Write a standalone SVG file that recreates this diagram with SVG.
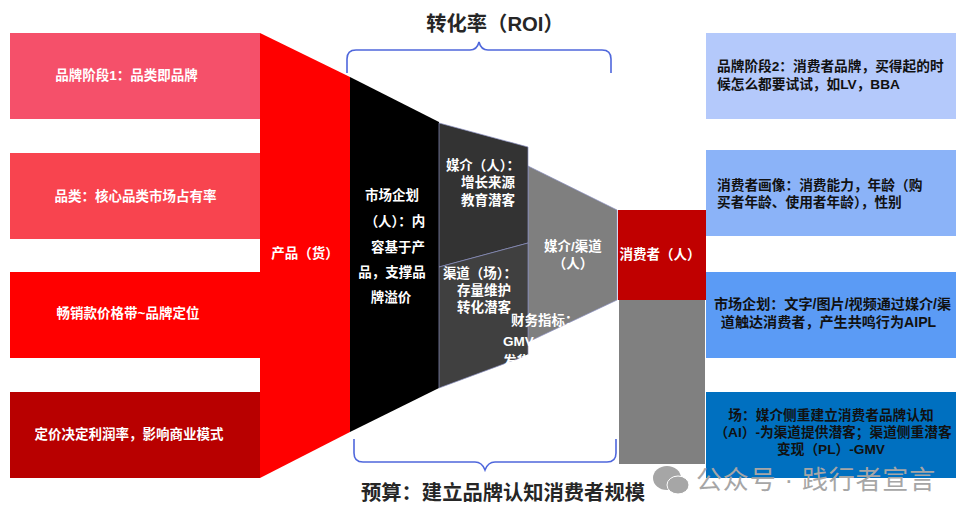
<svg xmlns="http://www.w3.org/2000/svg" width="967" height="518" viewBox="0 0 967 518">
<style>
text{font-family:"Liberation Sans","Noto Sans CJK SC",sans-serif;font-weight:700;text-anchor:middle}
.w{fill:#fff;font-size:13.500px}
.k{fill:#111;font-size:13.700px}
.s{text-anchor:start}
.t{fill:#262626;font-size:20.300px}
.b{fill:none;stroke:#4f67dc;stroke-width:1.600}
.e{stroke:#8a8fc0;stroke-width:.7}
</style>
<rect width="967" height="518" fill="#fff"/>
<g id="left1"><rect x="10" y="33" width="250" height="86" fill="#f5506a"/><text class="w" x="126.500" y="80">品牌阶段1：品类即品牌</text></g>
<g id="left2"><rect x="10" y="153" width="250" height="86" fill="#f8444f"/><text class="w" x="135.500" y="201">品类：核心品类市场占有率</text></g>
<g id="left3"><rect x="10" y="272" width="250" height="86" fill="#ff0000"/><text class="w" x="128" y="318">畅销款价格带~品牌定位</text></g>
<g id="left4"><rect x="10" y="392" width="250" height="86" fill="#b80000"/><text class="w" x="129" y="439">定价决定利润率，影响商业模式</text></g>
<g id="product"><polygon points="260,33 350,77 350,432 260,478" fill="#ff0000"/><text class="w" x="305" y="258">产品（货）</text></g>
<g id="market"><polygon points="350,77 439,122 439,388 350,432" fill="#000"/>
<text class="w" x="392" y="200">市场企划</text><text class="w" x="395" y="226">（人）：内</text><text class="w" x="398" y="252">容基于产</text><text class="w" x="392" y="277">品，支撑品</text><text class="w" x="391" y="302">牌溢价</text></g>
<g id="channelfunnel"><polygon class="e" points="528,166 617,210 617,300 528,342" fill="#7f7f7f"/><text class="w" x="573" y="251">媒介/渠道</text><text class="w" x="573" y="268">（人）</text></g>
<g id="media"><polygon class="e" points="439,123 528,147 528,243 439,267" fill="#333"/>
<text class="w" x="483" y="170">媒介（人）：</text><text class="w" x="488" y="187">增长来源</text><text class="w" x="488" y="205">教育潜客</text></g>
<g id="channel"><polygon class="e" points="439,267 528,243 528,355 439,388" fill="#404040"/>
<text class="w" x="480" y="278">渠道（场）：</text><text class="w" x="484" y="295">存量维护</text><text class="w" x="484" y="312">转化潜客</text></g>
<g id="finance"><text class="w s" x="511" y="325">财务指标：</text><text class="w s" x="503" y="346">GMV</text><text class="w s" x="503" y="366">发货</text></g>
<g id="consumer"><rect x="618" y="210" width="88" height="90" fill="#c00000"/><text class="w" x="660" y="259">消费者（人）</text></g>
<g id="grey"><rect x="619" y="300" width="86" height="164" fill="#808080"/></g>
<g id="right1"><rect x="706" y="33" width="250" height="86" fill="#b4c9fb"/><text class="k s" x="717" y="71">品牌阶段2：消费者品牌，买得起的时</text><text class="k s" x="717" y="89">候怎么都要试试，如LV，BBA</text></g>
<g id="right2"><rect x="706" y="150" width="250" height="86" fill="#8bb3f8"/><text class="k s" x="717" y="190">消费者画像：消费能力，年龄（购</text><text class="k s" x="717" y="207">买者年龄、使用者年龄），性别</text></g>
<g id="right3"><rect x="706" y="272" width="250" height="86" fill="#5b9bf5"/><text class="k" x="832.500" y="309" style="font-size:14.100px">市场企划：文字/图片/视频通过媒介/渠</text><text class="k" x="828.500" y="327" style="font-size:14.100px">道触达消费者，产生共鸣行为AIPL</text></g>
<g id="right4"><rect x="706" y="392" width="250" height="86" fill="#0070c0"/><text class="k" x="831" y="420">场：媒介侧重建立消费者品牌认知</text><text class="k" x="833" y="437">（AI）-为渠道提供潜客；渠道侧重潜客</text><text class="k" x="831" y="454">变现（PL）-GMV</text></g>
<g id="connectors">
<path class="b" d="M347 73V59Q347 50 356 50H470Q477 50 479 42Q481 50 488 50H602Q611 50 611 59V73"/>
<path class="b" d="M354 439V453Q354 462 363 462H475Q482 462 485 470Q488 462 495 462H607Q616 462 616 453V439"/>
</g>
<g id="title-top"><text class="t" x="495" y="31">转化率（ROI）</text></g>
<g id="title-bottom"><text class="t" x="503" y="500">预算：建立品牌认知消费者规模</text></g>
<g id="watermark"><ellipse cx="667" cy="478" rx="14" ry="12" fill="#a6a6a6"/><ellipse cx="678" cy="485" rx="11" ry="9" fill="#a6a6a6" stroke="#fff"/><text x="816" y="489" style="font-size:26px;font-weight:400;fill:#a6a6a6;letter-spacing:.8px">公众号 · 践行者宣言</text></g>
</svg>
